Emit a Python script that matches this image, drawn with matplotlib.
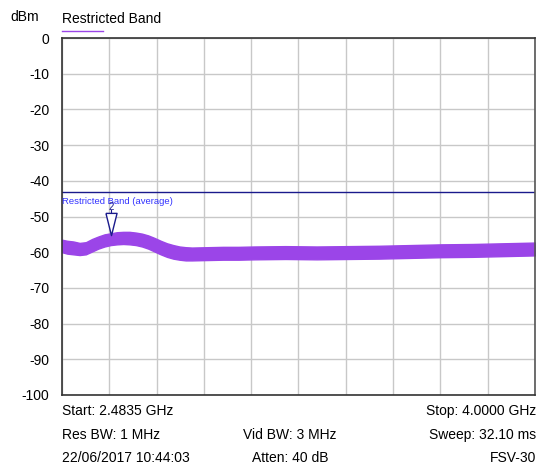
import matplotlib
matplotlib.use("Agg")
import matplotlib.pyplot as plt
import numpy as np

plt.rcParams['font.family'] = ['Liberation Sans', 'DejaVu Sans']

# trace envelope (GHz, dBm)
freq = [2.4835, 2.50, 2.52, 2.54, 2.56, 2.58, 2.60, 2.62, 2.64, 2.66, 2.68, 2.70,
        2.72, 2.74, 2.76, 2.78, 2.80, 2.82, 2.84, 2.86, 2.88, 2.90, 2.95, 3.00,
        3.05, 3.10, 3.20, 3.30, 3.40, 3.50, 3.60, 3.70, 3.80, 3.90, 4.00]
trace_hi = [-56.5, -56.8, -57.0, -57.4, -57.2, -56.3, -55.6, -55.0, -54.7, -54.4, -54.3, -54.3,
            -54.5, -54.8, -55.3, -56.0, -56.8, -57.5, -58.0, -58.4, -58.6, -58.7, -58.6, -58.5,
            -58.5, -58.4, -58.3, -58.4, -58.3, -58.2, -58.0, -57.8, -57.7, -57.5, -57.3]
trace_lo = [-60.0, -60.4, -60.6, -60.8, -60.6, -59.8, -59.0, -58.4, -58.0, -57.8, -57.7, -57.8,
            -58.0, -58.4, -59.0, -59.8, -60.6, -61.3, -61.8, -62.1, -62.3, -62.3, -62.2, -62.1,
            -62.1, -62.0, -61.9, -62.0, -61.9, -61.8, -61.6, -61.4, -61.3, -61.1, -60.9]

limit_level = -43
marker_freq = 2.64
marker_level = -52.2

y_ticks = [0, -10, -20, -30, -40, -50, -60, -70, -80, -90, -100]
f_start, f_stop = 2.4835, 4.0

fig = plt.figure(figsize=(5.38, 4.66), dpi=100)
ax = fig.add_axes([0.1152, 0.1524, 0.8792, 0.766])

ax.fill_between(freq, trace_lo, trace_hi, color='#9b45e8', linewidth=1.0, edgecolor='#9b45e8')
ax.axhline(limit_level, color='#1a1a8c', linewidth=1.0)
ax.text(f_start + 0.001, limit_level - 1.4, 'Restricted Band (average)', color='#3333ff',
        fontsize=6.8, va='top', ha='left')
tri = [(-0.5, 1.0), (0.5, 1.0), (0.0, -1.0), (-0.5, 1.0)]
ax.plot([marker_freq, marker_freq], [marker_level + 2.1, marker_level + 4.0],
        color='#1a1a8c', linewidth=0.8)
ax.plot([marker_freq], [marker_level], marker=tri, markersize=16, markerfacecolor='white',
        markeredgecolor='#1a1a8c', markeredgewidth=1.0, linestyle='none')
ax.text(marker_freq, marker_level + 3.6, '2', color='#1a1a8c', fontsize=7, ha='center',
        va='bottom')

ax.set_xlim(f_start, f_stop)
ax.set_ylim(-100, 0)
ax.set_yticks(y_ticks)
ax.set_yticklabels([str(v) for v in y_ticks], fontsize=10)
ax.set_xticks(np.linspace(f_start, f_stop, 11))
ax.set_xticklabels([])
ax.tick_params(length=0, pad=9)
ax.grid(True, color='#c8c8c8', linewidth=1.0)
ax.set_axisbelow(True)
for s in ['left', 'bottom', 'top']:
    ax.spines[s].set_color('#333333')
    ax.spines[s].set_linewidth(1.2)
ax.spines['right'].set_color('#555555')
ax.spines['right'].set_linewidth(1.2)

fig.text(10 / 538, 1 - 17 / 466, 'dBm', fontsize=10, va='center', ha='left')
fig.text(62 / 538, 1 - 19 / 466, 'Restricted Band', fontsize=10, va='center', ha='left')
fig.add_artist(plt.Line2D([62 / 538, 103 / 538], [1 - 31 / 466, 1 - 31 / 466],
                          color='#9b45e8', linewidth=1.0))

rows = [1 - 411 / 466, 1 - 435 / 466, 1 - 458 / 466]
fig.text(62 / 538, rows[0], 'Start: 2.4835 GHz', fontsize=10, va='center')
fig.text(536 / 538, rows[0], 'Stop: 4.0000 GHz', fontsize=10, va='center', ha='right')
fig.text(62 / 538, rows[1], 'Res BW: 1 MHz', fontsize=10, va='center')
fig.text(290 / 538, rows[1], 'Vid BW: 3 MHz', fontsize=10, va='center', ha='center')
fig.text(536 / 538, rows[1], 'Sweep: 32.10 ms', fontsize=10, va='center', ha='right')
fig.text(62 / 538, rows[2], '22/06/2017 10:44:03', fontsize=10, va='center')
fig.text(290 / 538, rows[2], 'Atten: 40 dB', fontsize=10, va='center', ha='center')
fig.text(536 / 538, rows[2], 'FSV-30', fontsize=10, va='center', ha='right')

fig.savefig('out.png', dpi=100)
